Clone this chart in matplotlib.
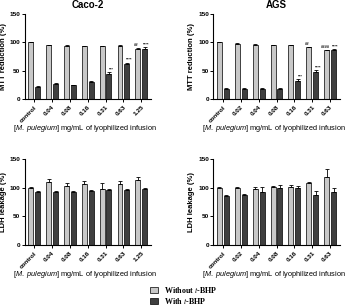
import matplotlib
matplotlib.use("Agg")
import matplotlib.pyplot as plt
import numpy as np
from matplotlib.patches import Patch
from matplotlib.font_manager import FontProperties

plt.rcParams['font.family'] = ['Liberation Sans', 'DejaVu Sans']
plt.rcParams['mathtext.fontset'] = 'custom'
plt.rcParams['mathtext.it'] = 'Liberation Sans:italic'
plt.rcParams['mathtext.rm'] = 'Liberation Sans'

caco_conc = ['control', '0.04', '0.08', '0.16', '0.31', '0.63', '1.25']
ags_conc = ['control', '0.02', '0.04', '0.08', '0.16', '0.31', '0.63']

caco_mtt_without = [100, 95, 94, 93, 93, 93, 88]
caco_mtt_without_err = [0.5, 1, 0.5, 1, 1, 1.5, 1.5]
caco_mtt_with = [22, 26, 24, 30, 44, 61, 88]
caco_mtt_with_err = [1, 1.5, 1, 2, 3, 3, 3]
caco_mtt_ann_without = ['', '', '', '', '', '', '##']
caco_mtt_ann_with = ['', '', '', '', '***', '****', '****']

ags_mtt_without = [100, 97, 96, 95, 95, 91, 86]
ags_mtt_without_err = [0.5, 1.5, 1, 1, 1, 1, 1]
ags_mtt_with = [18, 18, 18, 18, 32, 48, 87]
ags_mtt_with_err = [1, 1, 1, 1, 2.5, 2.5, 1]
ags_mtt_ann_without = ['', '', '', '', '', '##', '####']
ags_mtt_ann_with = ['', '', '', '', '***', '****', '****']

caco_ldh_without = [100, 110, 103, 106, 97, 106, 114]
caco_ldh_without_err = [0.5, 5, 5, 5, 12, 5, 5]
caco_ldh_with = [93, 93, 93, 95, 96, 96, 98]
caco_ldh_with_err = [1, 1, 1, 1, 1, 1, 1]

ags_ldh_without = [100, 100, 98, 102, 102, 108, 119]
ags_ldh_without_err = [1, 1, 3, 1, 2, 2, 13]
ags_ldh_with = [85, 87, 93, 100, 99, 88, 92]
ags_ldh_with_err = [3, 2, 9, 5, 4, 7, 8]

LIGHT = '#c8c8c8'
DARK = '#3f3f3f'

W, H = 349, 306
fig = plt.figure(figsize=(W / 100, H / 100), dpi=100)

def ax_at(x0, x1, ytop, ybot):
    return fig.add_axes([x0 / W, 1 - ybot / H, (x1 - x0) / W, (ybot - ytop) / H])

def panel(ax, cats, v1, e1, v2, e2, ylabel, a1=None, a2=None, title=None):
    x = np.arange(len(cats))
    bw = 0.28
    off = 0.19
    ax.bar(x - off, v1, bw, color=LIGHT, edgecolor='black', linewidth=0.5, zorder=2)
    ax.bar(x + off, v2, bw, color=DARK, edgecolor='black', linewidth=0.5, zorder=2)
    ax.errorbar(x - off, v1, yerr=[np.zeros(len(v1)), e1], fmt='none', ecolor='black',
                elinewidth=0.6, capsize=1.2, capthick=0.6, zorder=3)
    ax.errorbar(x + off, v2, yerr=[np.zeros(len(v2)), e2], fmt='none', ecolor='black',
                elinewidth=0.6, capsize=1.2, capthick=0.6, zorder=3)
    if a1 is not None:
        for i in range(len(cats)):
            if a1[i]:
                ax.text(x[i] - off - 0.08, v1[i] + e1[i] + 1.5, a1[i], ha='center', va='bottom',
                        fontsize=3.0, fontweight='bold')
            if a2[i]:
                ax.text(x[i] + off + 0.12, v2[i] + e2[i] + 1.5, a2[i], ha='center', va='bottom',
                        fontsize=3.0, fontweight='bold')
    ax.set_xlim(-0.55, len(cats) - 0.45)
    ax.set_ylim(0, 150)
    ax.set_yticks([0, 50, 100, 150])
    ax.set_xticks(x)
    ax.set_xticklabels(cats, rotation=45, ha='right', rotation_mode='anchor',
                       fontsize=4.6, fontweight='bold')
    for lab in ax.get_yticklabels():
        lab.set_fontsize(4.6)
        lab.set_fontweight('bold')
    ax.spines['top'].set_visible(False)
    ax.spines['right'].set_visible(False)
    ax.spines['left'].set_linewidth(0.8)
    ax.spines['bottom'].set_linewidth(0.8)
    ax.tick_params(axis='both', length=2, width=0.7, pad=1)
    ax.tick_params(axis='x', pad=2)
    ax.set_ylabel(ylabel, fontsize=5.5, labelpad=2, fontweight='bold')
    ax.set_xlabel('[$\\mathit{M.\\ pulegium}$] mg/mL of lyophilized infusion', fontsize=5.3)
    ax.xaxis.set_label_coords(0.48, -0.345)
    ax.xaxis.label.set_va('center')
    if title:
        ax.set_title(title, fontsize=7, fontweight='bold', pad=4)

ax1 = ax_at(24.5, 151, 14, 99)
ax2 = ax_at(213, 340, 14, 99)
ax3 = ax_at(24.5, 151, 159, 245)
ax4 = ax_at(213, 340, 159, 245)

panel(ax1, caco_conc, caco_mtt_without, caco_mtt_without_err, caco_mtt_with, caco_mtt_with_err,
      'MTT reduction (%)', caco_mtt_ann_without, caco_mtt_ann_with, 'Caco-2')
panel(ax2, ags_conc, ags_mtt_without, ags_mtt_without_err, ags_mtt_with, ags_mtt_with_err,
      'MTT reduction (%)', ags_mtt_ann_without, ags_mtt_ann_with, 'AGS')
panel(ax3, caco_conc, caco_ldh_without, caco_ldh_without_err, caco_ldh_with, caco_ldh_with_err,
      'LDH leakage (%)')
panel(ax4, ags_conc, ags_ldh_without, ags_ldh_without_err, ags_ldh_with, ags_ldh_with_err,
      'LDH leakage (%)')

handles = [Patch(facecolor=LIGHT, edgecolor='black', linewidth=0.5),
           Patch(facecolor=DARK, edgecolor='black', linewidth=0.5)]
labels = ['Without $\\mathit{t}$-BHP', 'With $\\mathit{t}$-BHP']
legprop = FontProperties(family='Liberation Serif', size=5.8, weight='bold', math_fontfamily='stix')
leg = fig.legend(handles, labels, loc='center left', bbox_to_anchor=(150 / W, 1 - 295.5 / H),
                 frameon=False, prop=legprop,
                 handlelength=1.0, handleheight=0.75, handletextpad=0.8, labelspacing=0.15,
                 borderpad=0, borderaxespad=0)

fig.savefig('out.png', dpi=100)
